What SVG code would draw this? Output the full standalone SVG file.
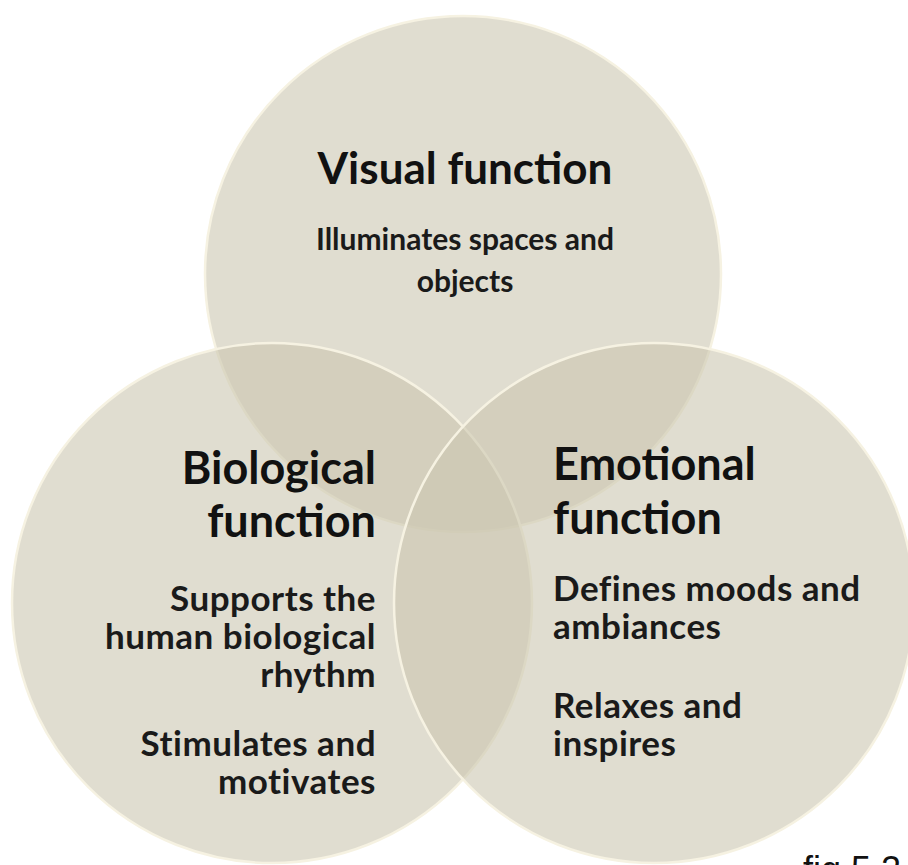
<svg xmlns="http://www.w3.org/2000/svg" width="908" height="865" viewBox="0 0 908 865">
<style>
.c{fill:rgb(204,199,176);fill-opacity:0.6;stroke:#f6f2e2;stroke-width:2.5}
.h{font-family:Lato,"Open Sans",sans-serif;font-weight:700;fill:#111;font-size:45px}
.b{font-family:Lato,"Open Sans",sans-serif;font-weight:700;fill:#1a1a1a;font-size:35px;letter-spacing:0.5px}
.t{font-family:Lato,"Open Sans",sans-serif;font-weight:700;fill:#1a1a1a;font-size:30px}
.m{text-anchor:middle}
.r{text-anchor:end}
</style>
<rect width="908" height="865" fill="#ffffff"/>
<g id="visual">
<circle class="c" cx="463" cy="274" r="258"/>
<text class="h m" x="465" y="184" style="font-size:44px">Visual function</text>
<text class="t m" x="465" y="250">Illuminates spaces and</text>
<text class="t m" x="465" y="292">objects</text>
</g>
<g id="biological">
<circle class="c" cx="272" cy="603" r="260"/>
<text class="h r" x="376" y="484">Biological</text>
<text class="h r" x="376" y="537">function</text>
<text class="b r" x="376" y="611">Supports the</text>
<text class="b r" x="376" y="649">human biological</text>
<text class="b r" x="376" y="687">rhythm</text>
<text class="b r" x="376" y="756">Stimulates and</text>
<text class="b r" x="376" y="794">motivates</text>
</g>
<g id="emotional">
<circle class="c" cx="654" cy="603" r="260"/>
<text class="h" x="553" y="480">Emotional</text>
<text class="h" x="553" y="534">function</text>
<text class="b" x="553" y="601">Defines moods and</text>
<text class="b" x="553" y="639">ambiances</text>
<text class="b" x="553" y="718">Relaxes and</text>
<text class="b" x="553" y="756">inspires</text>
</g>
<g id="connectors"></g>
<text x="803" y="882" font-family="'Liberation Sans',Arial,sans-serif" font-size="36" fill="#111">fig 5.2</text>
</svg>
